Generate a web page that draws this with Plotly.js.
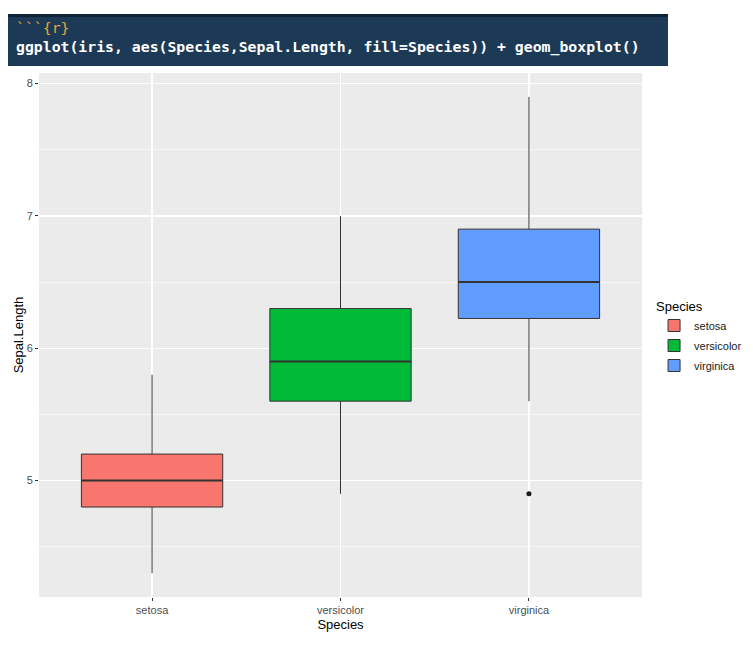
<!DOCTYPE html>
<html>
<head>
<meta charset="utf-8">
<script src="https://cdn.plot.ly/plotly-3.0.1.min.js"></script>
<style>
  html, body { margin: 0; padding: 0; background: #ffffff; }
  #wrap { position: relative; width: 753px; height: 652px; }
  #chart { position: absolute; left: 0; top: 0; width: 753px; height: 652px; }
  #code {
    position: absolute; left: 8px; top: 14px; width: 660px; height: 49px;
    background: #1c3a56; border-top: 3px solid #0f2337;
    font-family: "DejaVu Sans Mono", "Liberation Mono", monospace;
    font-size: 14.8px; color: #ffffff; z-index: 5;
  }
  #code .l1 { position: absolute; left: 8px; top: 2px; color: #e8a23e; }
  #code .l2 { position: absolute; left: 8px; top: 21px; font-weight: bold; }
</style>
</head>
<body>
<div id="wrap">
  <div id="chart"></div>
  <div id="code"><div class="l1">```{r}</div><div class="l2">ggplot(iris, aes(Species,Sepal.Length, fill=Species)) + geom_boxplot()</div></div>
</div>
<script>
// Data (iris Sepal.Length summary by species)
const species = ["setosa", "versicolor", "virginica"];
const lowerWhisker = [4.3, 4.9, 5.6];
const q1 = [4.8, 5.6, 6.225];
const median = [5.0, 5.9, 6.5];
const q3 = [5.2, 6.3, 6.9];
const upperWhisker = [5.8, 7.0, 7.9];
const outlierSpecies = ["virginica"];
const outlierValues = [4.9];
const fillColors = ["#F8766D", "#00BA38", "#619CFF"];

const boxWidth = 0.75;
const lineColor = "#333333";

const traces = [];
species.forEach((s, i) => {
  traces.push({
    type: "box",
    name: s,
    legendgroup: s,
    x: [i],
    q1: [q1[i]], median: [median[i]], q3: [q3[i]],
    lowerfence: [lowerWhisker[i]], upperfence: [upperWhisker[i]],
    width: boxWidth,
    fillcolor: fillColors[i],
    line: { color: lineColor, width: 1 },
    whiskerwidth: 0,
    boxpoints: false,
    hoverinfo: "skip",
    showlegend: true
  });
});
// thicker median lines (ggplot draws median with double width)
species.forEach((s, i) => {
  traces.push({
    type: "scatter", mode: "lines",
    x: [i - boxWidth / 2, i + boxWidth / 2],
    y: [median[i], median[i]],
    line: { color: lineColor, width: 2 },
    showlegend: false, hoverinfo: "skip"
  });
});
// outliers
traces.push({
  type: "scatter", mode: "markers",
  x: outlierSpecies.map(s => species.indexOf(s)),
  y: outlierValues,
  marker: { color: "#1a1a1a", size: 5 },
  showlegend: false, hoverinfo: "skip"
});

const layout = {
  width: 753, height: 652,
  margin: { l: 39, r: 111, t: 73, b: 55, autoexpand: false },
  paper_bgcolor: "#ffffff",
  plot_bgcolor: "#ebebeb",
  font: { family: "Liberation Sans, Arial, sans-serif", color: "#1a1a1a" },
  showlegend: true,
  boxmode: "overlay",
  xaxis: {
    range: [-0.6, 2.6],
    tickmode: "array",
    tickvals: species.map((s, i) => i),
    ticktext: species,
    ticks: "outside", ticklen: 3, tickcolor: "#333333", tickwidth: 1,
    tickfont: { size: 11, color: "#4d4d4d" },
    showgrid: true, gridcolor: "#ffffff", gridwidth: 1.2,
    zeroline: false, showline: false, automargin: false,
    title: { text: "Species", font: { size: 13, color: "#000000" }, standoff: 4 }
  },
  yaxis: {
    range: [4.12, 8.08],
    tickmode: "linear", tick0: 5, dtick: 1,
    ticks: "outside", ticklen: 3, tickcolor: "#333333", tickwidth: 1,
    tickfont: { size: 11, color: "#4d4d4d" },
    showgrid: true, gridcolor: "#ffffff", gridwidth: 1.2,
    minor: { dtick: 0.5, tick0: 4.5, showgrid: true, gridcolor: "#ffffff", gridwidth: 0.6, ticks: "" },
    zeroline: false, showline: false, automargin: false,
    title: { text: "Sepal.Length", font: { size: 13, color: "#000000" }, standoff: 0 }
  },
  legend: {
    x: 1.02, xanchor: "left", y: 0.578, yanchor: "top",
    title: { text: "Species", font: { size: 13, color: "#000000" } },
    font: { size: 11, color: "#1a1a1a" },
    bgcolor: "rgba(0,0,0,0)",
    traceorder: "grouped",
    tracegroupgap: 1
  }
};

Plotly.newPlot("chart", traces, layout, { displayModeBar: false, staticPlot: true });
</script>
</body>
</html>
